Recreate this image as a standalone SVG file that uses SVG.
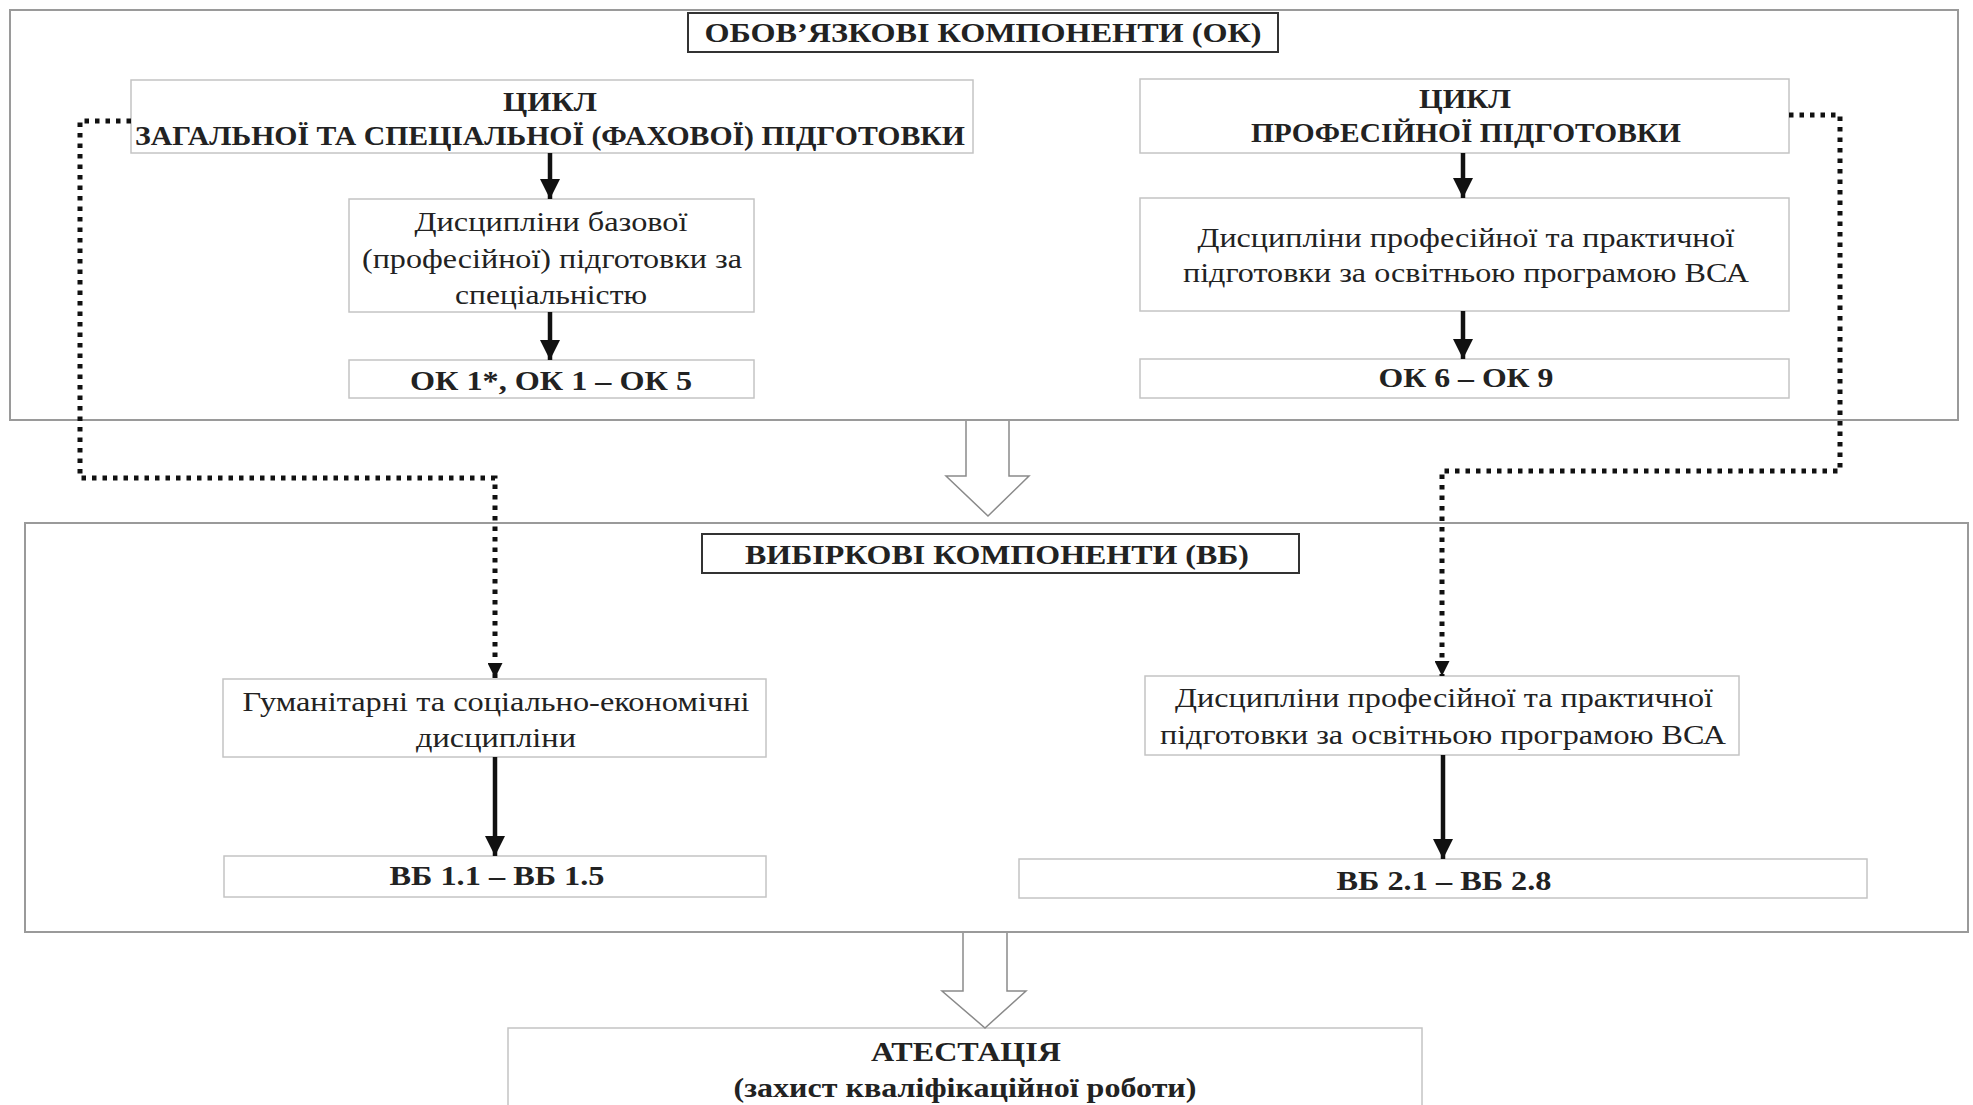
<svg xmlns="http://www.w3.org/2000/svg" width="1973" height="1105" viewBox="0 0 1973 1105">
<style>
text{font-family:"Liberation Serif","Times New Roman",serif;font-size:28px;fill:#222;text-anchor:middle;dominant-baseline:central}
.b{font-weight:bold}
.outer{fill:none;stroke:#9a9a9a;stroke-width:2}
.title{fill:#fff;stroke:#333;stroke-width:2}
.inner{fill:#fff;stroke:#c4c4c4;stroke-width:1.5}
.solid{stroke:#111;stroke-width:4.5;fill:none}
.dot{stroke:#111;stroke-width:5;fill:none;stroke-dasharray:4.5 6}
.hollow{fill:#fff;stroke:#8a8a8a;stroke-width:1.5}
</style>
<defs>
<marker id="ah" viewBox="0 0 10 10" refX="10" refY="5" markerWidth="22" markerHeight="20" markerUnits="userSpaceOnUse" orient="auto"><path d="M0,0 L10,5 L0,10 z" fill="#111"/></marker>
<marker id="ahs" viewBox="0 0 10 10" refX="10" refY="5" markerWidth="18" markerHeight="15" markerUnits="userSpaceOnUse" orient="auto"><path d="M0,0 L10,5 L0,10 z" fill="#111"/></marker>
</defs>
<rect width="1973" height="1105" fill="#fff"/>

<g id="ok-group">
<rect class="outer" x="10" y="10" width="1948" height="410"/>
</g>
<g id="ok-title">
<rect class="title" x="688" y="13" width="590" height="39"/>
<text class="b" x="983" y="32" textLength="557" lengthAdjust="spacingAndGlyphs">ОБОВ’ЯЗКОВІ КОМПОНЕНТИ (ОК)</text>
</g>
<g id="cycle-general">
<rect class="inner" x="131" y="80" width="842" height="73"/>
<text class="b" x="550" y="101" textLength="94" lengthAdjust="spacingAndGlyphs">ЦИКЛ</text>
<text class="b" x="550" y="135" textLength="830" lengthAdjust="spacingAndGlyphs">ЗАГАЛЬНОЇ ТА СПЕЦІАЛЬНОЇ (ФАХОВОЇ) ПІДГОТОВКИ</text>
</g>
<g id="base-disc">
<rect class="inner" x="349" y="199" width="405" height="113"/>
<text x="551" y="221" textLength="273" lengthAdjust="spacingAndGlyphs">Дисципліни базової</text>
<text x="552" y="258" textLength="380" lengthAdjust="spacingAndGlyphs">(професійної) підготовки за</text>
<text x="551" y="294" textLength="192" lengthAdjust="spacingAndGlyphs">спеціальністю</text>
</g>
<g id="ok1-5">
<rect class="inner" x="349" y="360" width="405" height="38"/>
<text class="b" x="551" y="380" textLength="282" lengthAdjust="spacingAndGlyphs">ОК 1*, ОК 1 – ОК 5</text>
</g>
<g id="cycle-prof">
<rect class="inner" x="1140" y="79" width="649" height="74"/>
<text class="b" x="1465" y="98" textLength="92" lengthAdjust="spacingAndGlyphs">ЦИКЛ</text>
<text class="b" x="1466" y="132" textLength="430" lengthAdjust="spacingAndGlyphs">ПРОФЕСІЙНОЇ ПІДГОТОВКИ</text>
</g>
<g id="prof-disc-ok">
<rect class="inner" x="1140" y="198" width="649" height="113"/>
<text x="1466" y="237" textLength="537" lengthAdjust="spacingAndGlyphs">Дисципліни професійної та практичної</text>
<text x="1466" y="272" textLength="566" lengthAdjust="spacingAndGlyphs">підготовки за освітньою програмою ВСА</text>
</g>
<g id="ok6-9">
<rect class="inner" x="1140" y="359" width="649" height="39"/>
<text class="b" x="1466" y="377" textLength="175" lengthAdjust="spacingAndGlyphs">ОК 6 – ОК 9</text>
</g>

<g id="vb-group">
<rect class="outer" x="25" y="523" width="1943" height="409"/>
</g>
<g id="vb-title">
<rect class="title" x="702" y="534" width="597" height="39"/>
<text class="b" x="997" y="554" textLength="504" lengthAdjust="spacingAndGlyphs">ВИБІРКОВІ КОМПОНЕНТИ (ВБ)</text>
</g>
<g id="hum-disc">
<rect class="inner" x="223" y="679" width="543" height="78"/>
<text x="496" y="701" textLength="507" lengthAdjust="spacingAndGlyphs">Гуманітарні та соціально-економічні</text>
<text x="496" y="737" textLength="160" lengthAdjust="spacingAndGlyphs">дисципліни</text>
</g>
<g id="vb1">
<rect class="inner" x="224" y="856" width="542" height="41"/>
<text class="b" x="497" y="875" textLength="215" lengthAdjust="spacingAndGlyphs">ВБ 1.1 – ВБ 1.5</text>
</g>
<g id="prof-disc-vb">
<rect class="inner" x="1145" y="676" width="594" height="79"/>
<text x="1444" y="697" textLength="538" lengthAdjust="spacingAndGlyphs">Дисципліни професійної та практичної</text>
<text x="1443" y="734" textLength="566" lengthAdjust="spacingAndGlyphs">підготовки за освітньою програмою ВСА</text>
</g>
<g id="vb2">
<rect class="inner" x="1019" y="859" width="848" height="39"/>
<text class="b" x="1444" y="880" textLength="215" lengthAdjust="spacingAndGlyphs">ВБ 2.1 – ВБ 2.8</text>
</g>
<g id="attestation">
<rect class="inner" x="508" y="1028" width="914" height="100"/>
<text class="b" x="966" y="1051" textLength="190" lengthAdjust="spacingAndGlyphs">АТЕСТАЦІЯ</text>
<text class="b" x="965" y="1087" textLength="463" lengthAdjust="spacingAndGlyphs">(захист кваліфікаційної роботи)</text>
</g>

<g id="connectors">
<line class="solid" x1="550" y1="153" x2="550" y2="199" marker-end="url(#ah)"/>
<line class="solid" x1="550" y1="312" x2="550" y2="360" marker-end="url(#ah)"/>
<line class="solid" x1="1463" y1="153" x2="1463" y2="198" marker-end="url(#ah)"/>
<line class="solid" x1="1463" y1="311" x2="1463" y2="359" marker-end="url(#ah)"/>
<line class="solid" x1="495" y1="757" x2="495" y2="856" marker-end="url(#ah)"/>
<line class="solid" x1="1443" y1="755" x2="1443" y2="859" marker-end="url(#ah)"/>
<path class="dot" d="M131,121 H80 V478 H495 V678" marker-end="url(#ahs)"/>
<path class="dot" d="M1789,115 H1840 V471 H1442 V676" marker-end="url(#ahs)"/>
<path class="hollow" d="M966,421 V476 H946 L988,516 L1029,476 H1009 V421"/>
<path class="hollow" d="M963,933 V991 H942 L985,1028 L1026,991 H1007 V933"/>
</g>
</svg>
